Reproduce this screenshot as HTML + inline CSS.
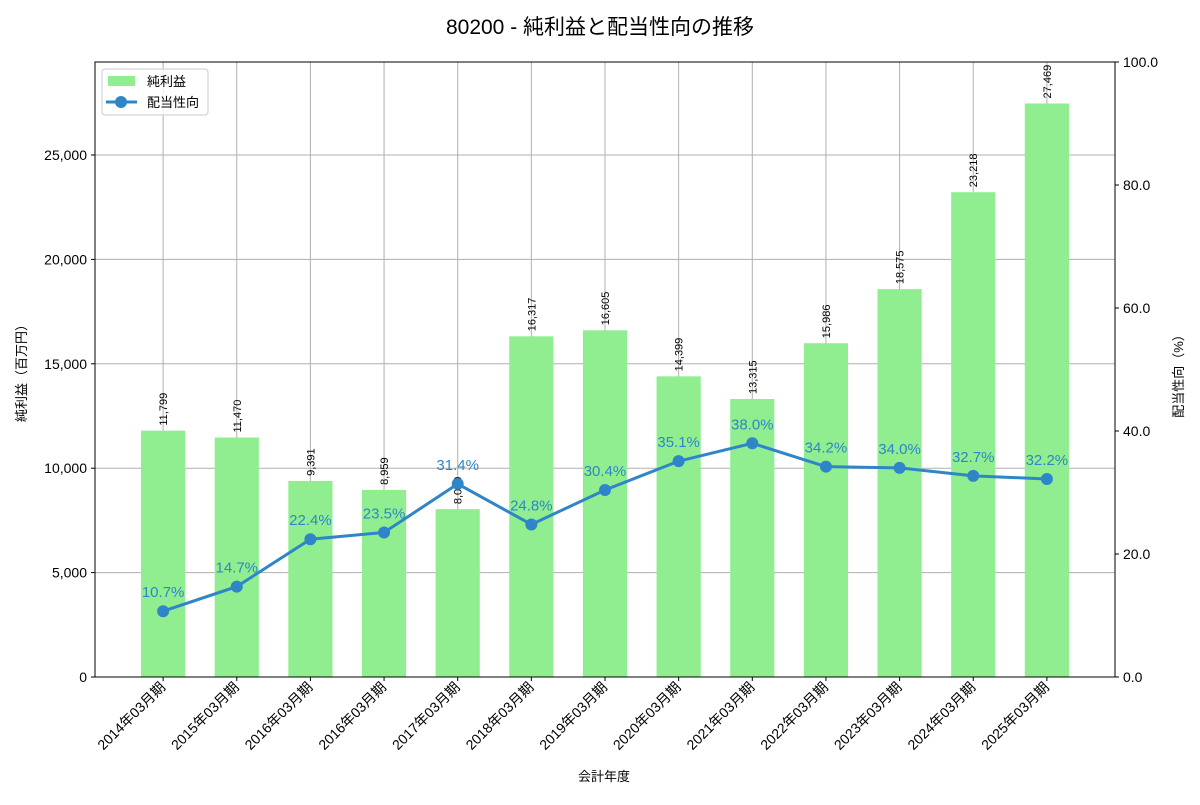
<!DOCTYPE html>
<html><head><meta charset="utf-8"><style>
body{margin:0;background:#fff;}
svg text{font-family:"Liberation Sans","Noto Sans CJK JP",sans-serif;}
</style></head><body>
<svg id="chart" width="1200" height="800" xmlns="http://www.w3.org/2000/svg">
<text x="600" y="34" text-anchor="middle" font-size="21">80200 - 純利益と配当性向の推移</text>
<g id="grid"></g><g id="bars"></g><g id="line"></g><g id="axes"></g>
</svg>
<script>
const categories=["2014年03月期","2015年03月期","2016年03月期","2016年03月期","2017年03月期","2018年03月期","2019年03月期","2020年03月期","2021年03月期","2022年03月期","2023年03月期","2024年03月期","2025年03月期"];
const netIncome=[11799,11470,9391,8959,8039,16317,16605,14399,13315,15986,18575,23218,27469];
const payout=[10.7,14.7,22.4,23.5,31.4,24.8,30.4,35.1,38.0,34.2,34.0,32.7,32.2];
const leftTicks=[0,5000,10000,15000,20000,25000];
const rightTicks=[0,20,40,60,80,100];
const NS="http://www.w3.org/2000/svg";
const L=95,R=1115,T=62,B=677;
const xPer=(R-L)/13.85;
const x=i=>L+(i+0.925)*xPer;
const yL=v=>B-v/29454*(B-T);
const yR=v=>B-v/100*(B-T);
function mk(tag,attrs,parent,txt){const e=document.createElementNS(NS,tag);for(const k in attrs)e.setAttribute(k,attrs[k]);if(txt!=null)e.textContent=txt;document.getElementById(parent).appendChild(e);return e;}
const fmt=v=>v.toLocaleString('en-US');
categories.forEach((c,i)=>{
  const g=mk('line',{x1:x(i),x2:x(i),y1:T,y2:B,stroke:'#b0b0b0','stroke-width':1},'grid');
  
  
});
leftTicks.forEach(v=>{
  const g=mk('line',{x1:L,x2:R,y1:yL(v),y2:yL(v),stroke:'#b0b0b0','stroke-width':1},'grid');
  
  
  const t=mk('text',{x:L-8,y:yL(v)+5,'text-anchor':'end','font-size':14},'axes',fmt(v));
  
  
  mk('line',{x1:L-4,x2:L,y1:yL(v),y2:yL(v),stroke:'#000'},'axes');
});
rightTicks.forEach(v=>{
  const t=mk('text',{x:R+8,y:yR(v)+5,'font-size':14},'axes',v.toFixed(1));
  
  
  mk('line',{x1:R,x2:R+4,y1:yR(v),y2:yR(v),stroke:'#000'},'axes');
});
const bw=0.6*xPer;
netIncome.forEach((v,i)=>{
  const b=mk('rect',{x:x(i)-bw/2,y:yL(v),width:bw,height:B-yL(v),fill:'#90ee90'},'bars');
  
  
  const t=mk('text',{x:0,y:0,'font-size':11,transform:`translate(${x(i)+4},${yL(v)-5}) rotate(-90)`},'bars',fmt(v));
  
  
});
const pts=payout.map((v,i)=>x(i)+','+yR(v)).join(' ');
const pl=mk('polyline',{points:pts,fill:'none',stroke:'#2e86c8','stroke-width':3},'line');


payout.forEach((v,i)=>{
  const c=mk('circle',{cx:x(i),cy:yR(v),r:6,fill:'#2e86c8'},'line');
  
  
  const t=mk('text',{x:x(i),y:yR(v)-14,'text-anchor':'middle','font-size':15,fill:'#2e86c8'},'line',v.toFixed(1)+'%');
  
  
});
categories.forEach((c,i)=>{
  mk('line',{x1:x(i),x2:x(i),y1:B,y2:B+4,stroke:'#000'},'axes');
  const t=mk('text',{x:0,y:0,'font-size':14,'text-anchor':'end',transform:`translate(${x(i)+3},${B+11}) rotate(-45)`},'axes',c);
  
  
});
const fr=mk('rect',{x:L,y:T,width:R-L,height:B-T,fill:'none',stroke:'#000','stroke-width':1},'axes');


let t=mk('text',{x:604,y:781,'text-anchor':'middle','font-size':13},'axes','会計年度');

t=mk('text',{x:0,y:0,'text-anchor':'middle','font-size':13,transform:'translate(26,370) rotate(-90)'},'axes','純利益（百万円）');

t=mk('text',{x:0,y:0,'text-anchor':'middle','font-size':13,transform:'translate(1183,373) rotate(-90)'},'axes','配当性向（%）');

const lg=mk('rect',{x:102,y:69,width:106,height:46,rx:3,fill:'#fff','fill-opacity':0.8,stroke:'#ccc'},'axes');

mk('rect',{x:108,y:76,width:27,height:10,fill:'#90ee90'},'axes');
t=mk('text',{x:147,y:86,'font-size':13},'axes','純利益');

mk('line',{x1:106,x2:137,y1:102,y2:102,stroke:'#2e86c8','stroke-width':3},'axes');
mk('circle',{cx:121,cy:102,r:6,fill:'#2e86c8'},'axes');
t=mk('text',{x:147,y:107,'font-size':13},'axes','配当性向');

</script>
</body></html>
